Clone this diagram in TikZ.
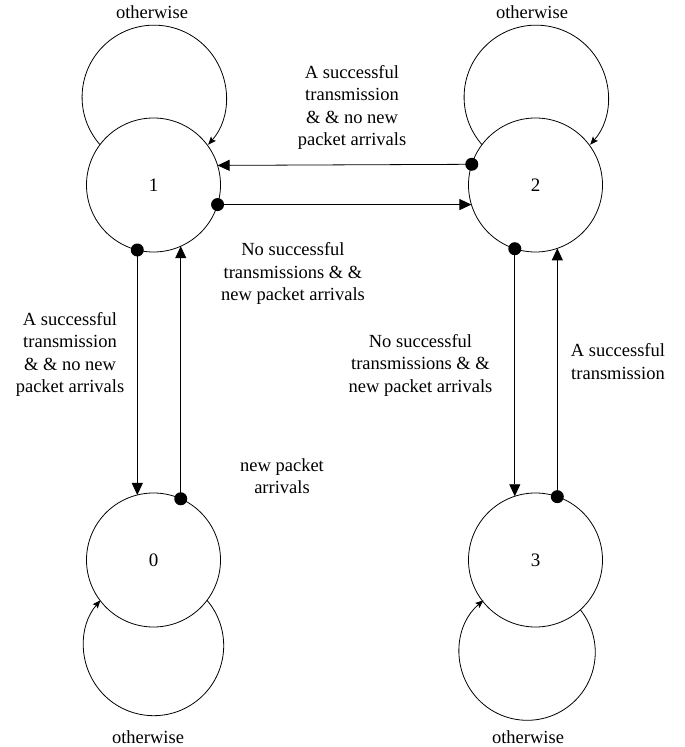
\documentclass[tikz,border=0pt]{standalone}
\usepackage{fontspec}
\setmainfont{Liberation Serif}
\usetikzlibrary{arrows.meta}
\begin{document}
\begin{tikzpicture}[x=1pt,y=1pt,
  state/.style={circle,draw,line width=0.8pt,minimum size=134pt,inner sep=0pt,outer sep=0pt,font=\fontsize{19}{22}\selectfont},
  lbl/.style={align=center,inner sep=0pt,font=\fontsize{18.5}{22.5}\selectfont},
  edge/.style={line width=0.8pt,-{Triangle[length=12pt,width=11pt]}},
  selfloop/.style={line width=0.8pt,-{Stealth[length=8pt,width=6.5pt,inset=1.5pt]}},
  dotr/.style={fill=black}]
\useasboundingbox (0,0) rectangle (685,747);
\node[state] (s1) at (153.5,562) {1};
\node[state] (s2) at (535.5,562) {2};
\node[state] (s0) at (153.5,187) {0};
\node[state] (s3) at (535.5,187) {3};
% self loops
\draw[selfloop] (s1.143.8) arc[start angle=221.3,end angle=-41.3,radius=72];
\draw[selfloop] (s2.143.8) arc[start angle=221.3,end angle=-41.3,radius=72];
\draw[selfloop] (s0.-37.3) arc[start angle=40.4,end angle=-220.4,radius=70];
\draw[selfloop] (s3.-48.9) arc[start angle=38.7,end angle=-229.8,radius=68];
% horizontal
\draw[edge] (s2.162.6) -- (s1.17.4);
\draw[edge] (s1.-17.4) -- (s2.197.4);
\fill[dotr] (s2.162.6) circle (6.5);
\fill[dotr] (s1.-17.4) circle (6.5);
% left vertical
\draw[edge] (s1.-104.3) -- (s0.104.3);
\draw[edge] (s0.66.7) -- (s1.-66.7);
\fill[dotr] (s1.-104.3) circle (6.5);
\fill[dotr] (s0.66.7) circle (6.5);
% right vertical
\draw[edge] (s2.-108.7) -- (s3.108.7);
\draw[edge] (s3.71.3) -- (s2.-71.3);
\fill[dotr] (s2.-108.7) circle (6.5);
\fill[dotr] (s3.71.3) circle (6.5);
% labels
\node[lbl] (o1) at (152,735) {otherwise};
\node[lbl] (o2) at (532,735) {otherwise};
\node[lbl] (o0) at (148,10) {otherwise};
\node[lbl] (o3) at (528,10) {otherwise};
\node[lbl] (t21) at (352,639.5) {A successful\\transmission\\\& \& no new\\packet arrivals};
\node[lbl] (t12) at (293,473.5) {No successful\\transmissions \& \&\\new packet arrivals};
\node[lbl] (t10) at (70,392.5) {A successful\\transmission\\\& \& no new\\packet arrivals};
\node[lbl] (t01) at (282,271) {new packet\\arrivals};
\node[lbl] (t23) at (420.5,382) {No successful\\transmissions \& \&\\new packet arrivals};
\node[lbl] (t32) at (618,385.5) {A successful\\transmission};
\end{tikzpicture}
\end{document}
